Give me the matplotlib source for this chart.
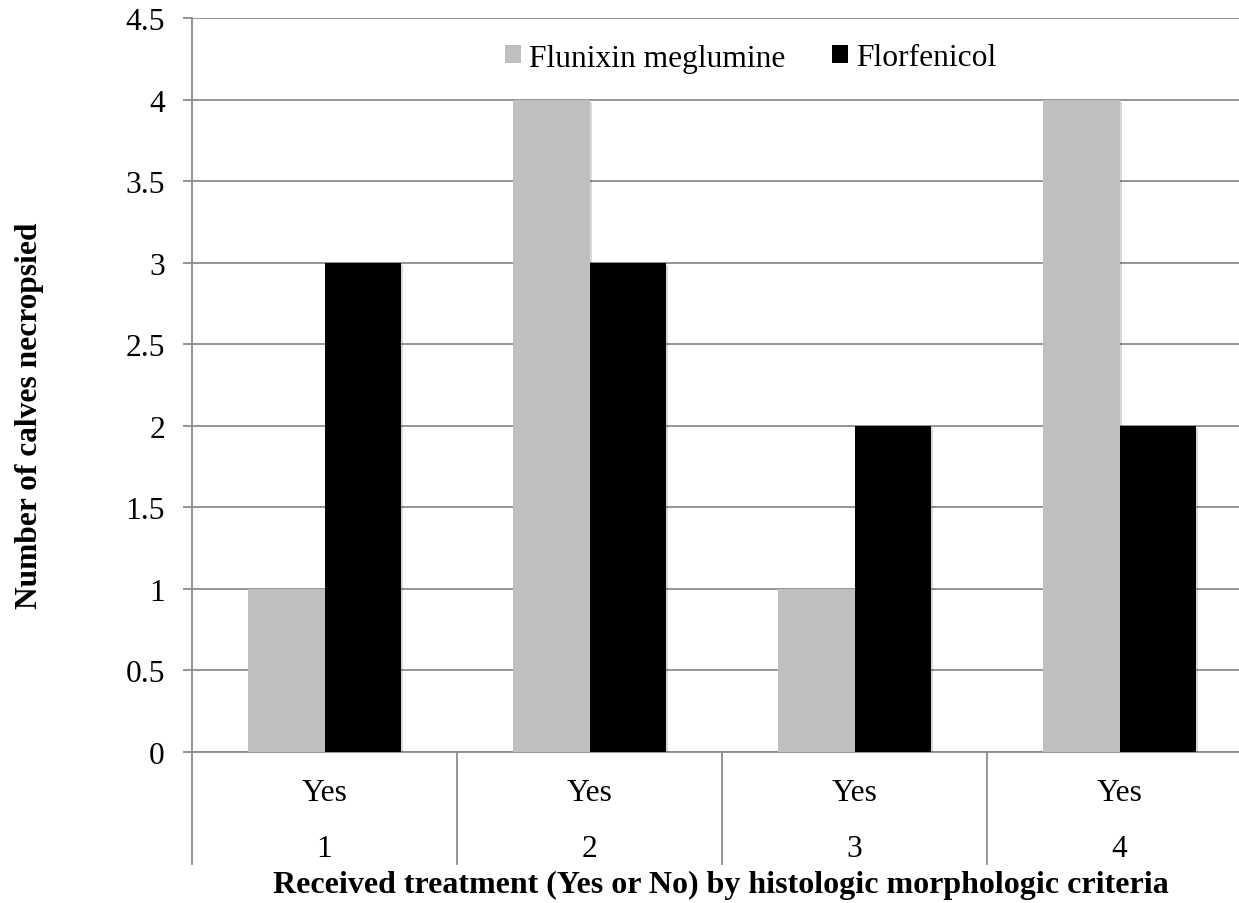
import matplotlib
matplotlib.use("Agg")
import matplotlib.pyplot as plt
from matplotlib.patches import Patch
from matplotlib.transforms import blended_transform_factory
import matplotlib.patheffects as pe

# Data
groups = ["1", "2", "3", "4"]
treatment = ["Yes", "Yes", "Yes", "Yes"]
flunixin = [1, 4, 1, 4]
florfenicol = [3, 3, 2, 2]
y_ticks = [0, 0.5, 1, 1.5, 2, 2.5, 3, 3.5, 4, 4.5]
y_ticklabels = ["0", "0.5", "1", "1.5", "2", "2.5", "3", "3.5", "4", "4.5"]

plt.rcParams["font.family"] = ["Liberation Serif", "DejaVu Serif"]

W, H = 1239, 904
fig = plt.figure(figsize=(W / 100, H / 100), dpi=100)
left, right, top, bottom = 192, 1252, 19, 753
ax = fig.add_axes([left / W, 1 - bottom / H, (right - left) / W, (bottom - top) / H])

grid_c = "#8c8c8c"
gray_c = "#bfbfbf"
fs = 22.7
x = list(range(len(groups)))
bw = 0.287

shadow = [pe.SimplePatchShadow(offset=(1.5, -1.5), shadow_rgbFace="#000000", alpha=0.15), pe.Normal()]
ax.bar([i - bw / 2 for i in x], flunixin, width=bw, color=gray_c, zorder=3, path_effects=shadow)
ax.bar([i + bw / 2 for i in x], florfenicol, width=bw, color="black", zorder=3, path_effects=shadow)

ax.set_xlim(-0.5, len(groups) - 0.5)
ax.set_ylim(0, 4.5)
ax.set_yticks(y_ticks)
ax.set_yticklabels(y_ticklabels, fontsize=fs)
ax.yaxis.grid(True, color=grid_c, linewidth=1.3, zorder=0)
ax.set_axisbelow(True)
ax.tick_params(axis="y", length=6.5, width=1.3, color=grid_c, pad=13)
ax.set_xticks([])

for s in ["top", "right"]:
    ax.spines[s].set_visible(False)
ax.spines["left"].set_color(grid_c)
ax.spines["left"].set_linewidth(1.3)
ax.spines["bottom"].set_color(grid_c)
ax.spines["bottom"].set_linewidth(1.3)

# Multi-level category axis
trans = blended_transform_factory(ax.transData, ax.transAxes)
sep_bottom = (bottom - 865) / (bottom - top)
for b in [i - 0.5 for i in range(len(groups) + 1)]:
    ax.plot([b, b], [0, sep_bottom], transform=trans, color=grid_c, linewidth=1.3,
            clip_on=False, zorder=1)
y_yes = (bottom - 801) / (bottom - top)
y_num = (bottom - 857) / (bottom - top)
for i in x:
    ax.text(i, y_yes, treatment[i], transform=trans, ha="center", va="baseline", fontsize=fs)
    ax.text(i, y_num, groups[i], transform=trans, ha="center", va="baseline", fontsize=fs)

fig.text(721 / W, 1 - 893 / H, "Received treatment (Yes or No) by histologic morphologic criteria",
         ha="center", va="baseline", fontsize=23, fontweight="bold")
fig.text(30 / W, 1 - 416 / H, "Number of calves necropsied", rotation=90,
         ha="center", va="center", fontsize=22.6, fontweight="bold")

handles = [Patch(facecolor=gray_c, edgecolor="none", label="Flunixin meglumine"),
           Patch(facecolor="black", edgecolor="none", label="Florfenicol")]
ax.legend(handles=handles, loc="center", bbox_to_anchor=((750.5 - left) / (right - left), (bottom - 59) / (bottom - top)),
          ncol=2, frameon=False, fontsize=fs, handlelength=0.51, handleheight=0.51,
          handletextpad=0.25, columnspacing=1.49, borderpad=0, borderaxespad=0)

fig.savefig("out.png", dpi=100)
